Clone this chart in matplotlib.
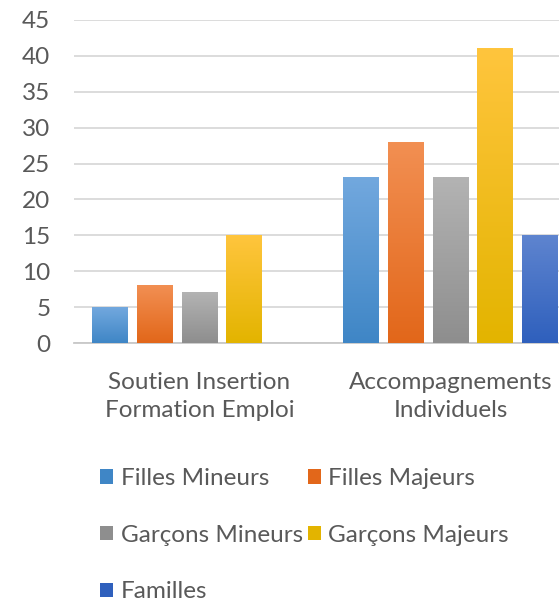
import numpy as np
import matplotlib
matplotlib.use("Agg")
import matplotlib.pyplot as plt
from matplotlib.colors import LinearSegmentedColormap
from matplotlib.patches import Patch

plt.rcParams['font.family'] = ['Lato', 'DejaVu Sans']

categories = ["Soutien Insertion\nFormation Emploi", "Accompagnements\nIndividuels"]
series = ["Filles Mineurs", "Filles Majeurs", "Garçons Mineurs", "Garçons Majeurs", "Familles"]
values = {
    "Filles Mineurs": [5, 23],
    "Filles Majeurs": [8, 28],
    "Garçons Mineurs": [7, 23],
    "Garçons Majeurs": [15, 41],
    "Familles": [0, 15],
}
# (top colour, bottom colour) for the gradient fill
colors = {
    "Filles Mineurs": ("#72a8de", "#3f86c6"),
    "Filles Majeurs": ("#f28f52", "#e2671a"),
    "Garçons Mineurs": ("#b3b3b3", "#8e8e8e"),
    "Garçons Majeurs": ("#ffc53d", "#e3b400"),
    "Familles": ("#5e84cf", "#2f60bd"),
}
yticks = [0, 5, 10, 15, 20, 25, 30, 35, 40, 45]

W, H = 559, 598
fig = plt.figure(figsize=(W / 100, H / 100), dpi=100)
# plot area runs past the right edge of the picture (the original is cropped)
ax = fig.add_axes([74 / W, 1 - 343 / H, 502 / W, 323 / H])

x = np.arange(len(categories))
width = 0.143
step = 0.179
text_col = "#595959"
fs = 17.5

for i, s in enumerate(series):
    top, bot = colors[s]
    xs = x + (i - 2) * step
    bars = ax.bar(xs, values[s], width, color=bot, zorder=2)
    cmap = LinearSegmentedColormap.from_list(s, [bot, top])
    grad = np.linspace(0, 1, 100).reshape(-1, 1)
    for b in bars:
        h = b.get_height()
        if h <= 0:
            continue
        x0 = b.get_x()
        ax.imshow(grad, extent=[x0, x0 + b.get_width(), 0, h], origin="lower",
                  aspect="auto", cmap=cmap, zorder=3)

ax.set_xlim(-0.5, 1.5)
ax.set_ylim(0, 45)
ax.set_yticks(yticks)
ax.yaxis.grid(True, color="#d9d9d9", linewidth=1.3, zorder=0)
ax.set_axisbelow(True)
for sp in ["top", "right", "left"]:
    ax.spines[sp].set_visible(False)
ax.spines["bottom"].set_color("#c8c8c8")
ax.spines["bottom"].set_linewidth(1.3)
ax.set_xticks(x)
ax.set_xticklabels(categories, fontsize=fs, color=text_col, linespacing=1.38)
ax.tick_params(axis="x", length=0, pad=21)
ax.tick_params(axis="y", length=0, pad=17, labelsize=fs, labelcolor=text_col)

order = [0, 2, 4, 1, 3]
handles = [Patch(facecolor=colors[series[k]][1], edgecolor="none") for k in order]
labels = [series[k] for k in order]
fig.legend(handles, labels, loc="upper left", bbox_to_anchor=(100 / W, 1 - 468 / H),
           ncol=2, frameon=False, fontsize=fs, labelcolor=text_col,
           handlelength=0.55, handleheight=0.55, handletextpad=0.3,
           columnspacing=0.2, labelspacing=1.47, borderpad=0, borderaxespad=0)

fig.savefig("out.png", dpi=100)
